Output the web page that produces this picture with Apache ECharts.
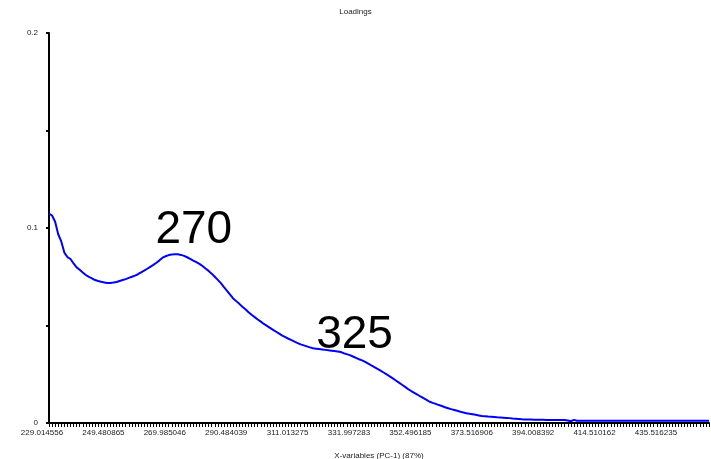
<!DOCTYPE html>
<html>
<head>
<meta charset="utf-8">
<title>Loadings</title>
<script src="https://cdn.jsdelivr.net/npm/echarts@6/dist/echarts.min.js"></script>
<style>
  html, body { margin: 0; padding: 0; background: #fff; }
  #chart { width: 711px; height: 459px; }
</style>
</head>
<body>
<div id="chart"></div>
<script>
// Wavelength labels shown on the x axis, one for every 20th variable
const tickLabels = [
  '229.014556', '249.480865', '269.985046', '290.484039', '311.013275',
  '331.997283', '352.496185', '373.516906', '394.008392', '414.510162', '435.516235'
];

// PC-1 loadings, one value per x-variable (sample index 0..215)
const loadings = [
  0.1074, 0.1064, 0.1032, 0.0968, 0.0931, 0.0874, 0.0851, 0.0841, 0.0818, 0.0798,
  0.0786, 0.0772, 0.0759, 0.0749, 0.0742, 0.0733, 0.0728, 0.0724, 0.0721, 0.0718,
  0.0718, 0.0720, 0.0723, 0.0728, 0.0733, 0.0738, 0.0744, 0.0750, 0.0756, 0.0763,
  0.0772, 0.0781, 0.0791, 0.0801, 0.0811, 0.0822, 0.0834, 0.0848, 0.0855, 0.0861,
  0.0864, 0.0865, 0.0865, 0.0862, 0.0857, 0.0850, 0.0842, 0.0833, 0.0825, 0.0816,
  0.0805, 0.0792, 0.0780, 0.0766, 0.0750, 0.0734, 0.0717, 0.0697, 0.0678, 0.0658,
  0.0639, 0.0625, 0.0611, 0.0596, 0.0583, 0.0568, 0.0555, 0.0543, 0.0531, 0.0520,
  0.0508, 0.0498, 0.0488, 0.0478, 0.0468, 0.0458, 0.0448, 0.0440, 0.0432, 0.0425,
  0.0417, 0.0410, 0.0403, 0.0398, 0.0393, 0.0388, 0.0383, 0.0381, 0.0379, 0.0377,
  0.0375, 0.0373, 0.0371, 0.0369, 0.0367, 0.0364, 0.0358, 0.0353, 0.0348, 0.0341,
  0.0334, 0.0327, 0.0321, 0.0313, 0.0304, 0.0295, 0.0287, 0.0278, 0.0269, 0.0259,
  0.0249, 0.0239, 0.0229, 0.0218, 0.0207, 0.0196, 0.0185, 0.0174, 0.0164, 0.0155,
  0.0146, 0.0136, 0.0127, 0.0118, 0.0109, 0.0103, 0.0098, 0.0092, 0.0087, 0.0081,
  0.0076, 0.0071, 0.0067, 0.0063, 0.0058, 0.0054, 0.0050, 0.0047, 0.0045, 0.0042,
  0.0039, 0.0036, 0.0035, 0.0033, 0.0032, 0.0031, 0.0029, 0.0028, 0.0027, 0.0026,
  0.0025, 0.0023, 0.0022, 0.0021, 0.0019, 0.0018, 0.0018, 0.0018, 0.0017, 0.0017,
  0.0017, 0.0017, 0.0016, 0.0016, 0.0016, 0.0016, 0.0016, 0.0016, 0.0015, 0.0013,
  0.0009, 0.0016, 0.0012, 0.0012, 0.0012, 0.0012, 0.0012, 0.0012, 0.0012, 0.0012,
  0.0012, 0.0011, 0.0011, 0.0011, 0.0011, 0.0011, 0.0011, 0.0011, 0.0011, 0.0011,
  0.0011, 0.0011, 0.0011, 0.0011, 0.0011, 0.0011, 0.0011, 0.0011, 0.0011, 0.0011,
  0.0011, 0.0011, 0.0011, 0.0011, 0.0011, 0.0011, 0.0011, 0.0011, 0.0011, 0.0011,
  0.0011, 0.0011, 0.0011, 0.0011, 0.0011, 0.0011
];

// Peak annotations: [text, variable index, loading]
const peakNotes = [
  ['270', 40, 0.0864],
  ['325', 94, 0.0367]
];

const labelStep = 20;
const variables = loadings.map((_, i) => i);
const font = '"Liberation Sans", Arial, sans-serif';
const txt = '#222';

const chart = echarts.init(document.getElementById('chart'), null, { renderer: 'canvas' });

chart.setOption({
  animation: false,
  backgroundColor: '#fff',
  title: {
    text: 'Loadings',
    left: 'center',
    top: 3,
    textStyle: { fontFamily: font, fontSize: 8, fontWeight: 'normal', color: txt }
  },
  grid: { left: 49, right: 2, top: 33, bottom: 36, containLabel: false, outerBoundsMode: 'none' },
  xAxis: {
    type: 'category',
    data: variables,
    boundaryGap: false,
    name: 'X-variables (PC-1) (87%)',
    nameLocation: 'middle',
    nameGap: 29,
    nameTextStyle: { fontFamily: font, fontSize: 8, color: txt },
    axisLine: { lineStyle: { color: '#000', width: 2 } },
    axisTick: { interval: 0, length: 4, lineStyle: { color: '#000', width: 1 } },
    axisLabel: {
      interval: labelStep - 1,
      margin: 6,
      fontFamily: font,
      fontSize: 8,
      color: txt,
      padding: [0, 14, 0, 0],
      formatter: (v, idx) => tickLabels[idx / labelStep] || ''
    },
    splitLine: { show: false }
  },
  yAxis: {
    type: 'value',
    min: 0,
    max: 0.2,
    interval: 0.05,
    axisLine: { show: true, lineStyle: { color: '#000', width: 2 } },
    axisTick: { show: true, length: 3, lineStyle: { color: '#000', width: 2 } },
    axisLabel: {
      margin: 11,
      fontFamily: font,
      fontSize: 8,
      color: txt,
      formatter: v => {
        const r = Math.round(v * 100) / 100;
        if (r === 0) return '0';
        if (r === 0.1) return '0.1';
        if (r === 0.2) return '0.2';
        return '';
      }
    },
    splitLine: { show: false }
  },
  series: [{
    type: 'line',
    data: loadings,
    showSymbol: false,
    symbol: 'none',
    smooth: false,
    lineStyle: { color: '#0000ff', width: 2 },
    markPoint: {
      symbol: 'circle',
      symbolSize: 1,
      itemStyle: { color: 'rgba(0,0,0,0)' },
      data: peakNotes.map(([t, i, v], k) => ({
        coord: [i, v],
        label: {
          show: true,
          position: 'inside',
          formatter: t,
          fontFamily: font,
          fontSize: 46,
          color: '#000',
          offset: k === 0 ? [22, -24] : [17, -16]
        }
      }))
    }
  }]
});
</script>
</body>
</html>
